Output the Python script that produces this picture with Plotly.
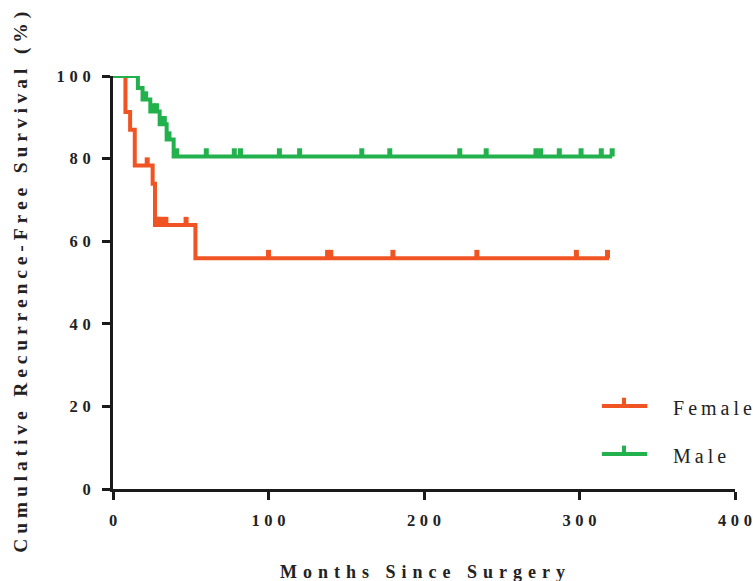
import plotly.graph_objects as go

# ---- data ----
female_times = [0, 8, 11, 14, 25.5, 27, 53, 319]
female_surv = [100, 91.3, 87.0, 78.3, 73.9, 63.9, 55.9, 55.9]
female_censor = [22, 28, 30, 32, 34, 47, 100, 138, 140, 180, 234, 298, 318]

male_times = [0, 16, 19, 24, 30, 34.5, 39, 321]
male_surv = [100, 97.1, 94.3, 91.4, 88.3, 84.6, 80.5, 80.5]
male_censor = [21, 26, 28, 31.5, 33, 36, 41, 60, 78, 82, 107, 120, 160, 178,
               223, 240, 272, 275, 287, 301, 314, 321]

series_names = ["Female", "Male"]
x_ticks = [0, 100, 200, 300, 400]
y_ticks = [0, 20, 40, 60, 80, 100]
x_title = "Months Since Surgery"
y_title = "Cumulative Recurrence-Free Survival (%)"

RED = "#f05423"
GREEN = "#22b14c"
TXT = "#222222"
AX = "#1a1a1a"
SERIF = "Liberation Serif"


def spaced(s, sep="\u2009"):
    return sep.join(list(s))


def level_at(times, surv, t):
    v = surv[0]
    for ti, si in zip(times, surv):
        if ti <= t:
            v = si
    return v


def censor_xy(times, surv, cens, h=2.0):
    xs, ys = [], []
    for t in cens:
        v = level_at(times, surv, t)
        xs += [t, t, None]
        ys += [v, v + h, None]
    return xs, ys


fig = go.Figure()

groups = [
    (series_names[0], female_times, female_surv, female_censor, RED),
    (series_names[1], male_times, male_surv, male_censor, GREEN),
]
for name, times, surv, cens, col in groups:
    fig.add_trace(go.Scatter(x=times, y=surv, mode="lines", line_shape="hv",
                             line=dict(color=col, width=4), showlegend=False,
                             name=name, hoverinfo="skip"))
    cx, cy = censor_xy(times, surv, cens)
    fig.add_trace(go.Scatter(x=cx, y=cy, mode="lines",
                             line=dict(color=col, width=5), showlegend=False,
                             name=name, hoverinfo="skip"))

# manual legend (paper coords)
shapes = []
annotations = []
leg_y = [0.201, 0.085]
for (name, _, _, _, col), ly in zip(groups, leg_y):
    shapes.append(dict(type="line", xref="paper", yref="paper",
                       x0=0.786, x1=0.859, y0=ly, y1=ly,
                       line=dict(color=col, width=4)))
    shapes.append(dict(type="line", xref="paper", yref="paper",
                       x0=0.8215, x1=0.8215, y0=ly, y1=ly + 0.02,
                       line=dict(color=col, width=4)))
    annotations.append(dict(text=spaced(name), xref="paper", yref="paper",
                            x=0.897, y=ly - 0.004, xanchor="left", yanchor="middle",
                            showarrow=False,
                            font=dict(family=SERIF, size=20, color=TXT)))

annotations.append(dict(text=spaced(x_title, "\u2004"), xref="paper", yref="paper",
                        x=0.4975, y=-0.201, xanchor="center", yanchor="middle",
                        showarrow=False,
                        font=dict(family=SERIF, size=18, color=TXT, weight="bold")))
annotations.append(dict(text=spaced(y_title, "\u2005"), xref="paper", yref="paper",
                        x=-0.149, y=0.5, xanchor="center", yanchor="middle",
                        textangle=-90, showarrow=False,
                        font=dict(family=SERIF, size=19.5, color=TXT, weight="bold")))

tick_sep = "\u2009\u200a"
tickfont = dict(family=SERIF, size=16.5, color=TXT, weight="bold")
fig.update_layout(
    width=753, height=581,
    margin=dict(l=113, r=18, t=76, b=92),
    paper_bgcolor="white", plot_bgcolor="white",
    font=dict(family=SERIF, color=TXT),
    showlegend=False,
    shapes=shapes, annotations=annotations,
    xaxis=dict(range=[0, 400], tickvals=x_ticks,
               ticktext=[spaced(str(v), tick_sep) for v in x_ticks],
               showgrid=False, zeroline=False, showline=True, automargin=False,
               linecolor=AX, linewidth=3, ticks="outside",
               ticklen=8, tickwidth=3, tickcolor=AX, ticklabelstandoff=6,
               ticklabeloverflow="allow", tickfont=tickfont),
    yaxis=dict(range=[0, 100], tickvals=y_ticks,
               ticktext=[spaced(str(v), tick_sep) for v in y_ticks],
               showgrid=False, zeroline=False, showline=True, automargin=False,
               linecolor=AX, linewidth=3, ticks="outside",
               ticklen=8, tickwidth=3, tickcolor=AX, ticklabelstandoff=8,
               ticklabeloverflow="allow", tickfont=tickfont),
)

fig.write_html("out.html", config={"displayModeBar": False},
               post_script="document.body.style.margin='0';document.body.style.overflow='hidden';")
